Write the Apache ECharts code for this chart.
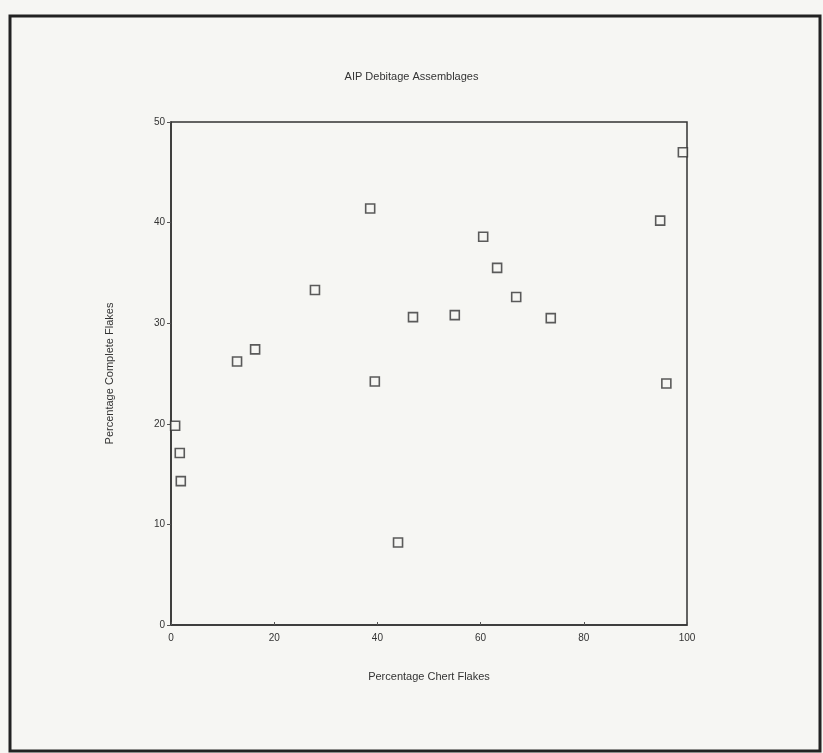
<!DOCTYPE html>
<html>
<head>
<meta charset="utf-8">
<script src="https://cdn.jsdelivr.net/npm/echarts@6/dist/echarts.min.js"></script>
<style>
html,body{margin:0;padding:0;background:#f6f6f3;}
#chart{width:823px;height:753px;}
</style>
</head>
<body>
<div id="chart"></div>
<script>
const chartTitle = 'AIP Debitage Assemblages';
const xName = 'Percentage Chert Flakes';
const yName = 'Percentage Complete Flakes';
const chertPct = [0.8, 1.7, 1.9, 12.8, 16.3, 27.9, 38.6, 39.5, 44.0, 46.9, 55.0, 60.5, 63.2, 66.9, 73.6, 94.8, 96.0, 99.2];
const completePct = [19.8, 17.1, 14.3, 26.2, 27.4, 33.3, 41.4, 24.2, 8.2, 30.6, 30.8, 38.6, 35.5, 32.6, 30.5, 40.2, 24.0, 47.0];

const points = chertPct.map((x, i) => [x, completePct[i]]);
const chart = echarts.init(document.getElementById('chart'));
const axisFont = {fontFamily: 'Liberation Sans, Arial, sans-serif', color: '#333', fontSize: 10};
chart.setOption({
  backgroundColor: '#f6f6f3',
  animation: false,
  title: {
    text: chartTitle, left: 'center', top: 66,
    textStyle: {fontFamily: 'Liberation Sans, Arial, sans-serif', fontSize: 11, fontWeight: 'normal', color: '#333'}
  },
  grid: {left: 171, right: 136, top: 122, bottom: 128, show: true, borderColor: '#333', borderWidth: 1.5, backgroundColor: 'transparent'},
  xAxis: {
    type: 'value', min: 0, max: 100, interval: 20,
    name: xName, nameLocation: 'middle', nameGap: 46,
    nameTextStyle: Object.assign({}, axisFont, {fontSize: 11}),
    axisLine: {show: true, lineStyle: {color: '#333', width: 1.5}},
    axisTick: {show: true, inside: true, length: 3, lineStyle: {color: '#555'}},
    axisLabel: Object.assign({margin: 8}, axisFont),
    splitLine: {show: false}
  },
  yAxis: {
    type: 'value', min: 0, max: 50, interval: 10,
    name: yName, nameLocation: 'middle', nameGap: 56, nameRotate: 90,
    nameTextStyle: Object.assign({}, axisFont, {fontSize: 11}),
    axisLine: {show: true, lineStyle: {color: '#333', width: 1.5}},
    axisTick: {show: true, length: 4, lineStyle: {color: '#555'}},
    axisLabel: Object.assign({margin: 6}, axisFont),
    splitLine: {show: false}
  },
  graphic: [{
    type: 'rect', shape: {x: 10, y: 16, width: 810, height: 735},
    style: {fill: 'none', stroke: '#222', lineWidth: 3}, silent: true
  }],
  series: [{
    type: 'scatter', data: points, symbol: 'rect', symbolSize: 9,
    itemStyle: {color: '#f6f6f3', borderColor: '#333', borderWidth: 1.6}
  }]
});
</script>
</body>
</html>
